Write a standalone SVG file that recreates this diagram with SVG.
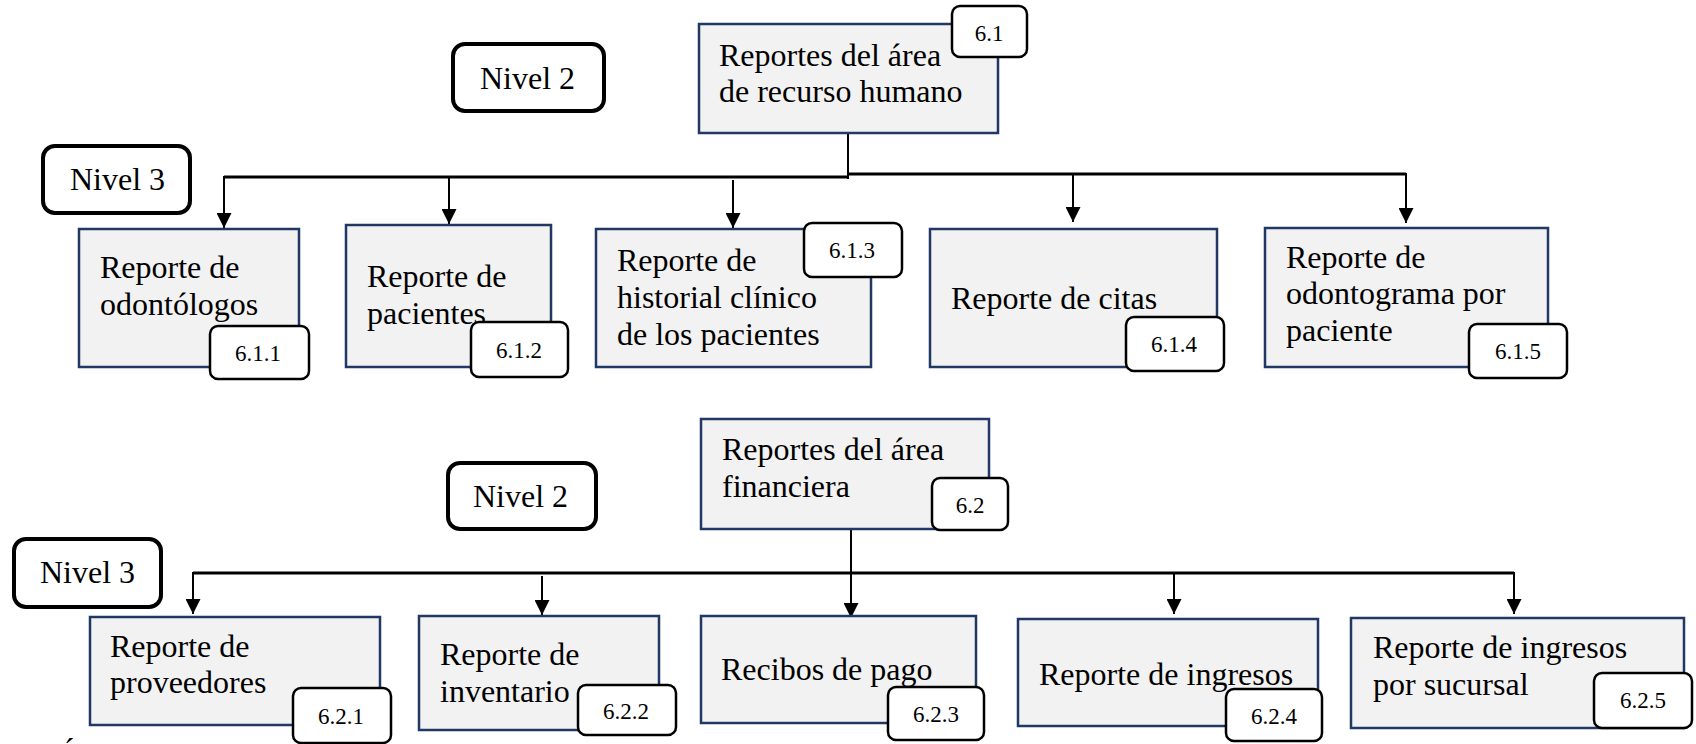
<svg xmlns="http://www.w3.org/2000/svg" width="1696" height="744" viewBox="0 0 1696 744">
  <style>
    .box { fill: #f2f2f2; stroke: #1f3864; stroke-width: 2.5; }
    .tag { fill: #ffffff; stroke: #000000; stroke-width: 2.5; }
    .lvl { fill: #ffffff; stroke: #000000; stroke-width: 4; }
    .t { font-family: 'Liberation Serif', 'Times New Roman', serif; font-size: 32px; fill: #000000; }
    .n { font-family: 'Liberation Serif', 'Times New Roman', serif; font-size: 23px; fill: #000000; text-anchor: middle; }
    .bus { fill: none; stroke: #000000; stroke-width: 3; }
    .arr { fill: none; stroke: #000000; stroke-width: 2; marker-end: url(#head); }
  </style>
  <defs>
    <marker id="head" viewBox="0 0 15 15" refX="15" refY="7.5" markerWidth="15" markerHeight="15" markerUnits="userSpaceOnUse" orient="auto">
      <path d="M0,0 L15,7.5 L0,15 z" fill="#000000"/>
    </marker>
  </defs>

  <rect width="1696" height="744" fill="#ffffff"/>

  <!-- connectors -->
  <g id="connectors">
    <!-- area 6.1 -->
    <path class="bus" d="M224,177 H848"/>
    <path class="bus" d="M848,174 H1406"/>
    <path class="bus" d="M848,133 V179" style="stroke-width:2"/>
    <path class="arr" d="M224,176 V228"/>
    <path class="arr" d="M449,176 V224"/>
    <path class="arr" d="M733,180 V228"/>
    <path class="arr" d="M1073,173 V222"/>
    <path class="arr" d="M1406,173 V223"/>
    <!-- area 6.2 -->
    <path class="bus" d="M193,573 H1514"/>
    <path class="arr" d="M193,572 V614"/>
    <path class="arr" d="M542,576 V615"/>
    <path class="arr" d="M851,529 V618"/>
    <path class="arr" d="M1174,572 V614"/>
    <path class="arr" d="M1514,572 V614"/>
  </g>

  <!-- level labels -->
  <g id="nivel2-a">
    <rect class="lvl" x="453" y="44" width="151" height="67" rx="12"/>
    <text class="t" x="480" y="89">Nivel 2</text>
  </g>
  <g id="nivel3-a">
    <rect class="lvl" x="43" y="146" width="147" height="67" rx="12"/>
    <text class="t" x="70" y="190">Nivel 3</text>
  </g>
  <g id="nivel2-b">
    <rect class="lvl" x="448" y="463" width="148" height="66" rx="12"/>
    <text class="t" x="473" y="507">Nivel 2</text>
  </g>
  <g id="nivel3-b">
    <rect class="lvl" x="14" y="539" width="147" height="68" rx="12"/>
    <text class="t" x="40" y="583">Nivel 3</text>
  </g>

  <!-- 6.1 -->
  <g id="n6-1">
    <rect class="box" x="699" y="24" width="299" height="109"/>
    <text class="t" x="719" y="66">Reportes del área</text>
    <text class="t" x="719" y="102">de recurso humano</text>
    <rect class="tag" x="952" y="6" width="75" height="51" rx="8"/>
    <text class="n" x="989" y="41">6.1</text>
  </g>
  <g id="n6-1-1">
    <rect class="box" x="79" y="229" width="220" height="138"/>
    <text class="t" x="100" y="278">Reporte de</text>
    <text class="t" x="100" y="315">odontólogos</text>
    <rect class="tag" x="210" y="326" width="99" height="53" rx="8"/>
    <text class="n" x="258" y="361">6.1.1</text>
  </g>
  <g id="n6-1-2">
    <rect class="box" x="346" y="225" width="205" height="142"/>
    <text class="t" x="367" y="287">Reporte de</text>
    <text class="t" x="367" y="324">pacientes</text>
    <rect class="tag" x="471" y="322" width="97" height="55" rx="8"/>
    <text class="n" x="519" y="358">6.1.2</text>
  </g>
  <g id="n6-1-3">
    <rect class="box" x="596" y="229" width="275" height="138"/>
    <text class="t" x="617" y="271">Reporte de</text>
    <text class="t" x="617" y="308">historial clínico</text>
    <text class="t" x="617" y="345">de los pacientes</text>
    <rect class="tag" x="804" y="223" width="98" height="54" rx="8"/>
    <text class="n" x="852" y="258">6.1.3</text>
  </g>
  <g id="n6-1-4">
    <rect class="box" x="930" y="229" width="287" height="138"/>
    <text class="t" x="951" y="309">Reporte de citas</text>
    <rect class="tag" x="1126" y="317" width="98" height="54" rx="8"/>
    <text class="n" x="1174" y="352">6.1.4</text>
  </g>
  <g id="n6-1-5">
    <rect class="box" x="1265" y="228" width="283" height="139"/>
    <text class="t" x="1286" y="268">Reporte de</text>
    <text class="t" x="1286" y="304">odontograma por</text>
    <text class="t" x="1286" y="341">paciente</text>
    <rect class="tag" x="1469" y="324" width="98" height="54" rx="8"/>
    <text class="n" x="1518" y="359">6.1.5</text>
  </g>

  <!-- 6.2 -->
  <g id="n6-2">
    <rect class="box" x="701" y="419" width="288" height="110"/>
    <text class="t" x="722" y="460">Reportes del área</text>
    <text class="t" x="722" y="497">financiera</text>
    <rect class="tag" x="932" y="478" width="76" height="52" rx="8"/>
    <text class="n" x="970" y="513">6.2</text>
  </g>
  <g id="n6-2-1">
    <rect class="box" x="90" y="617" width="290" height="108"/>
    <text class="t" x="110" y="657">Reporte de</text>
    <text class="t" x="110" y="693">proveedores</text>
    <rect class="tag" x="293" y="688" width="98" height="55" rx="8"/>
    <text class="n" x="341" y="724">6.2.1</text>
  </g>
  <g id="n6-2-2">
    <rect class="box" x="419" y="616" width="240" height="114"/>
    <text class="t" x="440" y="665">Reporte de</text>
    <text class="t" x="440" y="702">inventario</text>
    <rect class="tag" x="578" y="685" width="98" height="50" rx="8"/>
    <text class="n" x="626" y="719">6.2.2</text>
  </g>
  <g id="n6-2-3">
    <rect class="box" x="701" y="616" width="275" height="107"/>
    <text class="t" x="721" y="680">Recibos de pago</text>
    <rect class="tag" x="888" y="687" width="96" height="53" rx="8"/>
    <text class="n" x="936" y="722">6.2.3</text>
  </g>
  <g id="n6-2-4">
    <rect class="box" x="1018" y="619" width="300" height="107"/>
    <text class="t" x="1039" y="685">Reporte de ingresos</text>
    <rect class="tag" x="1226" y="689" width="96" height="52" rx="8"/>
    <text class="n" x="1274" y="724">6.2.4</text>
  </g>
  <g id="n6-2-5">
    <rect class="box" x="1351" y="618" width="333" height="110"/>
    <text class="t" x="1373" y="658">Reporte de ingresos</text>
    <text class="t" x="1373" y="695">por sucursal</text>
    <rect class="tag" x="1594" y="673" width="98" height="55" rx="8"/>
    <text class="n" x="1643" y="708">6.2.5</text>
  </g>

  <!-- accent of the caption line cut by the lower edge -->
  <text class="t" x="64" y="760">´</text>
</svg>
